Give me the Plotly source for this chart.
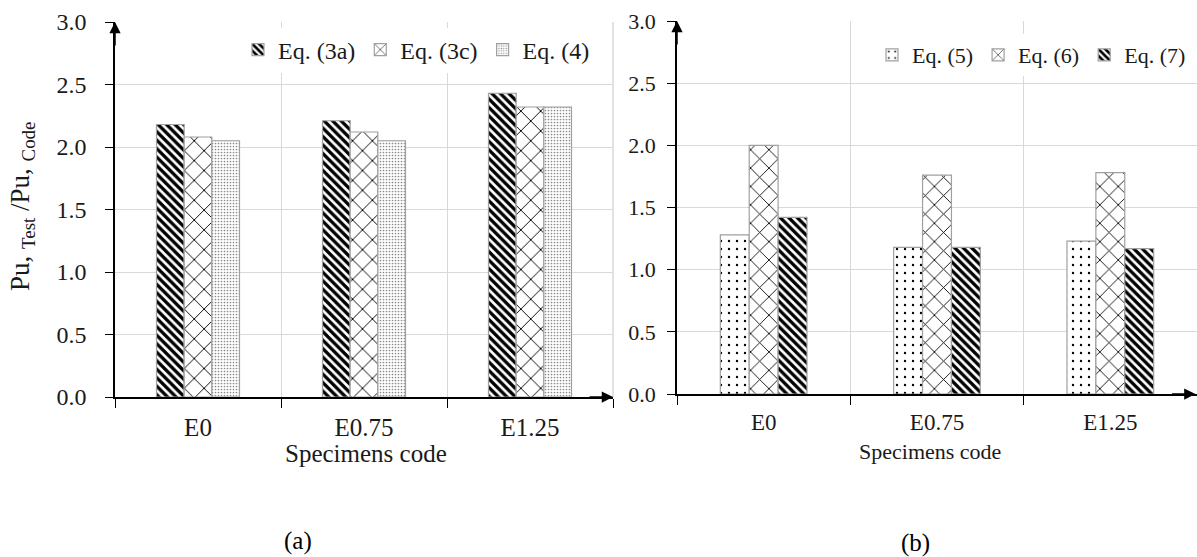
import plotly.graph_objects as go

# ---------------- data ----------------
categories = ["E0", "E0.75", "E1.25"]
eq3a = [2.18, 2.21, 2.43]
eq3c = [2.08, 2.12, 2.32]
eq4 = [2.05, 2.05, 2.32]
eq5 = [1.28, 1.18, 1.23]
eq6 = [2.00, 1.76, 1.78]
eq7 = [1.42, 1.18, 1.17]
y_tickvals = [0, 0.5, 1.0, 1.5, 2.0, 2.5, 3.0]
y_ticktext = ["0.0", "0.5", "1.0", "1.5", "2.0", "2.5", "3.0"]
x_title = "Specimens code"
y_title = "Pu, <sub>Test</sub> /Pu, <sub>Code</sub>"
panel_labels = ["(a)", "(b)"]

# ---------------- geometry helpers ----------------
W, H = 1197, 557
def fx(p):
    return p / W
def fy(p):
    return 1 - p / H

FONT = "Times New Roman, Liberation Serif, serif"
BORDER = dict(color="#a0a0a0", width=1.2)
GRID = "#d9d9d9"

def pat(shape, size, solidity, fg="black"):
    return dict(shape=shape, fgcolor=fg, bgcolor="white", size=size, solidity=solidity, fillmode="replace")

fig = go.Figure()

# left panel
fig.add_trace(go.Bar(x=categories, y=eq3a, name="Eq. (3a)", xaxis="x", yaxis="y", legend="legend",
                     marker=dict(color="white", line=BORDER, pattern=pat("\\", 6, 0.55))))
fig.add_trace(go.Bar(x=categories, y=eq3c, name="Eq. (3c)", xaxis="x", yaxis="y", legend="legend",
                     marker=dict(color="white", line=BORDER, pattern=pat("x", 14, 0.13))))
fig.add_trace(go.Bar(x=categories, y=eq4, name="Eq. (4)", xaxis="x", yaxis="y", legend="legend",
                     marker=dict(color="white", line=BORDER, pattern=pat(".", 3, 0.25, "#8a8a8a"))))

# right panel
fig.add_trace(go.Bar(x=categories, y=eq5, name="Eq. (5)", xaxis="x2", yaxis="y2", legend="legend2",
                     marker=dict(color="white", line=BORDER, pattern=pat(".", 8, 0.07))))
fig.add_trace(go.Bar(x=categories, y=eq6, name="Eq. (6)", xaxis="x2", yaxis="y2", legend="legend2",
                     marker=dict(color="white", line=BORDER, pattern=pat("x", 13, 0.13))))
fig.add_trace(go.Bar(x=categories, y=eq7, name="Eq. (7)", xaxis="x2", yaxis="y2", legend="legend2",
                     marker=dict(color="white", line=BORDER, pattern=pat("\\", 6, 0.55))))

def xaxis_cfg(domain, anchor, size):
    return dict(domain=domain, anchor=anchor, type="category", range=[-0.5, 2.5],
                tickson="boundaries", ticks="outside", ticklen=9, tickcolor="black", tickwidth=1.3,
                showline=True, linecolor="black", linewidth=1.5,
                showgrid=True, gridcolor=GRID, gridwidth=1.2,
                ticklabelstandoff=7, automargin=False,
                tickfont=dict(family=FONT, size=size, color="#1a1a1a"), fixedrange=True)

def yaxis_cfg(domain, anchor, size, standoff):
    return dict(domain=domain, anchor=anchor, range=[0, 3], tickvals=y_tickvals, ticktext=y_ticktext,
                ticks="outside", ticklen=8, tickcolor="black", tickwidth=1.3,
                showline=True, linecolor="black", linewidth=1.5, zeroline=False,
                showgrid=True, gridcolor=GRID, gridwidth=1.2,
                ticklabelstandoff=standoff, automargin=False,
                tickfont=dict(family=FONT, size=size, color="#1a1a1a"), fixedrange=True)

fig.update_layout(
    width=W, height=H,
    margin=dict(l=0, r=0, t=0, b=0, autoexpand=False),
    paper_bgcolor="white", plot_bgcolor="white",
    font=dict(family=FONT, color="#1a1a1a"),
    barmode="group", bargap=0.5, bargroupgap=0,
    xaxis=xaxis_cfg([fx(115), fx(613)], "y", 25),
    yaxis=yaxis_cfg([fy(397), fy(22)], "x", 24, 14),
    xaxis2=xaxis_cfg([fx(677), 1.0], "y2", 23),
    yaxis2=yaxis_cfg([fy(394), fy(21)], "x2", 22, 7),
    legend=dict(orientation="h", x=fx(238), y=fy(50), xanchor="left", yanchor="middle",
                bgcolor="white", font=dict(family=FONT, size=24, color="#1a1a1a"), itemwidth=30,
                traceorder="normal"),
    legend2=dict(orientation="h", x=fx(872), y=fy(55), xanchor="left", yanchor="middle",
                 bgcolor="white", font=dict(family=FONT, size=22, color="#1a1a1a"), itemwidth=30,
                 traceorder="normal"),
    showlegend=True,
    shapes=[
        dict(type="line", xref="x domain", yref="y domain", x0=1, x1=1, y0=0, y1=1,
             line=dict(color=GRID, width=1.5), layer="below"),
    ],
)

annotations = []
# axis arrowheads
for xr, yr in [("x", "y"), ("x2", "y2")]:
    annotations.append(dict(xref=f"{xr} domain", yref=f"{yr} domain", x=0, y=1, ax=0, ay=25,
                            axref="pixel", ayref="pixel", text="", showarrow=True,
                            arrowhead=2, arrowsize=1.5, arrowwidth=1.5, arrowcolor="black"))
    annotations.append(dict(xref=f"{xr} domain", yref=f"{yr} domain", x=1 if xr == "x" else 0.997, y=0,
                            ax=-25, ay=0, axref="pixel", ayref="pixel", text="", showarrow=True,
                            arrowhead=2, arrowsize=1.5, arrowwidth=1.5, arrowcolor="black"))

# axis titles
annotations.append(dict(xref="paper", yref="paper", x=fx(366), y=fy(453), text=x_title, showarrow=False,
                        font=dict(family=FONT, size=25), xanchor="center", yanchor="middle"))
annotations.append(dict(xref="paper", yref="paper", x=fx(930), y=fy(451), text=x_title, showarrow=False,
                        font=dict(family=FONT, size=22), xanchor="center", yanchor="middle"))
annotations.append(dict(xref="paper", yref="paper", x=fx(22), y=fy(207), text=y_title, showarrow=False,
                        textangle=-90, font=dict(family=FONT, size=27), xanchor="center", yanchor="middle"))
# panel labels
annotations.append(dict(xref="paper", yref="paper", x=fx(298), y=fy(541), text=panel_labels[0], showarrow=False,
                        font=dict(family=FONT, size=25, color="black"), xanchor="center", yanchor="middle"))
annotations.append(dict(xref="paper", yref="paper", x=fx(915), y=fy(543), text=panel_labels[1], showarrow=False,
                        font=dict(family=FONT, size=25, color="black"), xanchor="center", yanchor="middle"))

fig.update_layout(annotations=annotations)

fig.write_html(
    "out.html",
    config={"displayModeBar": False, "staticPlot": False},
    post_script="document.body.style.margin='0';document.body.style.padding='0';document.body.style.overflow='hidden';",
)
